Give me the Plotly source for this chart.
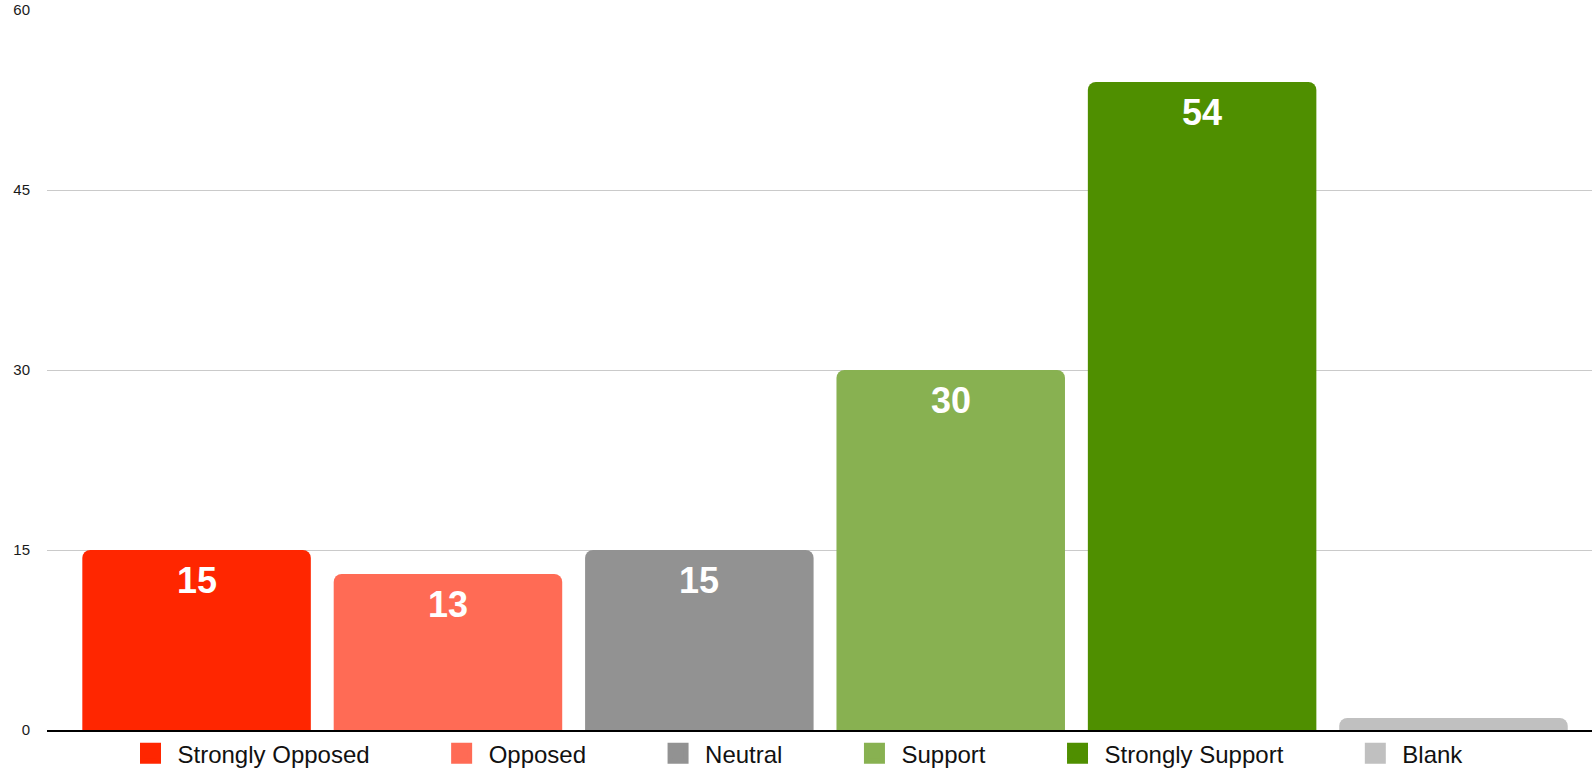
import plotly.graph_objects as go

categories = ["Strongly Opposed", "Opposed", "Neutral", "Support", "Strongly Support", "Blank"]
counts = [15, 13, 15, 30, 54, 1]
colors = ["#FF2600", "#FF6B55", "#929292", "#88B151", "#4F8F00", "#C0C0C0"]
show_label = [True, True, True, True, True, False]
y_ticks = [0, 15, 30, 45, 60]

PAD = "\u00a0" * 9
FONT = "Liberation Sans, Arial, Helvetica, sans-serif"

fig = go.Figure()
for i, (cat, val, col) in enumerate(zip(categories, counts, colors)):
    fig.add_trace(go.Bar(
        x=[cat], y=[val], name=cat, legendgroup=cat, showlegend=False,
        marker=dict(color=col, cornerradius=8, line=dict(width=0)),
        hovertemplate=cat + ": %{y}<extra></extra>",
    ))
    # legend entry with a larger square swatch, linked to the bar by legendgroup
    label = cat + (PAD if i < len(categories) - 1 else "")
    fig.add_trace(go.Scatter(
        x=[None], y=[None], mode="markers", name=label, legendgroup=cat,
        marker=dict(symbol="square", size=16, color=col, line=dict(color=col, width=5)),
        hoverinfo="skip",
    ))

for cat, val, show in zip(categories, counts, show_label):
    if show:
        fig.add_annotation(
            x=cat, y=val, text=str(val), showarrow=False,
            yanchor="top", yshift=-8,
            font=dict(family=FONT, size=36, color="white", weight=700),
        )

fig.update_layout(
    width=1592, height=768,
    margin=dict(l=47, r=0, t=10, b=38, autoexpand=False),
    barmode="overlay", bargap=0.091,
    plot_bgcolor="white", paper_bgcolor="white",
    font=dict(family=FONT, color="#1a1a1a"),
    showlegend=True,
    legend=dict(
        orientation="h", x=0.5, xanchor="center", xref="container",
        y=-0.033, yanchor="middle", itemsizing="trace", itemwidth=44,
        font=dict(size=24, color="#111"),
        bgcolor="rgba(0,0,0,0)",
    ),
    xaxis=dict(
        categoryorder="array", categoryarray=categories,
        range=[-0.595, 5.551], showticklabels=False, showgrid=False,
        showline=True, linecolor="black", linewidth=1.5, ticks="", zeroline=False,
    ),
    yaxis=dict(
        range=[0, 60], tickvals=y_ticks, showgrid=True, gridcolor="#cacaca",
        gridwidth=1, zeroline=False, showline=False, ticks="",
        ticklabelstandoff=16, tickfont=dict(size=15, color="#1a1a1a"),
    ),
)

fig.write_html(
    "out.html",
    config={"displayModeBar": False},
    post_script="document.body.style.margin='0';document.documentElement.style.overflow='hidden';",
)
